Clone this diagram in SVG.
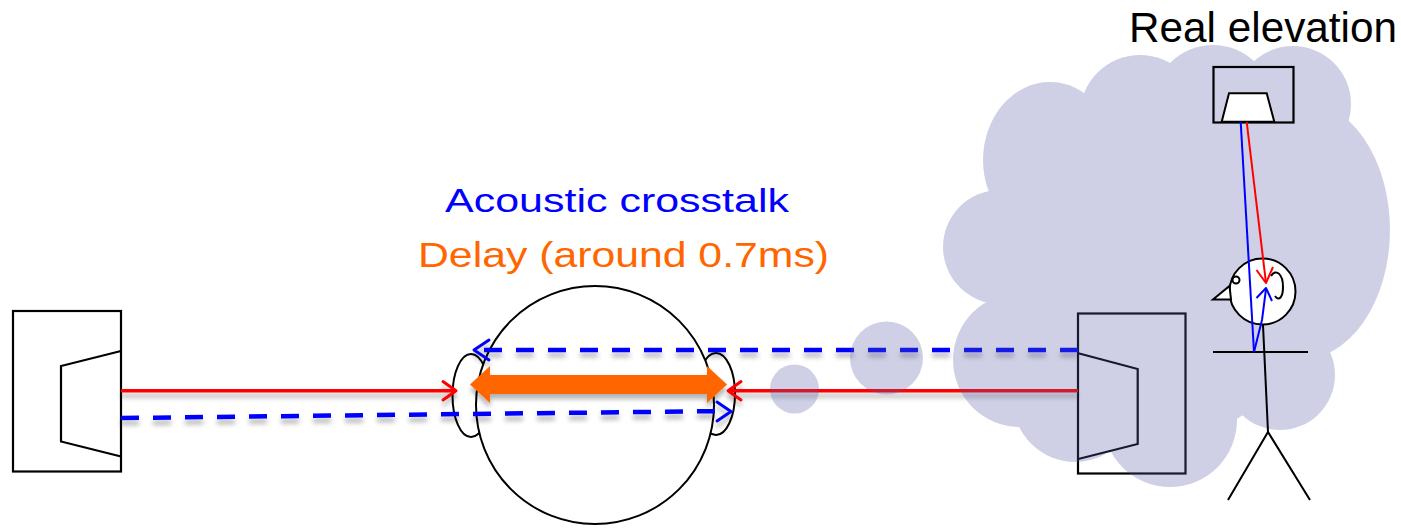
<svg xmlns="http://www.w3.org/2000/svg" width="1401" height="529" viewBox="0 0 1401 529">
  <style>
    .outline { fill: none; stroke: #000; stroke-width: 2.2; stroke-linejoin: miter; }
    .white { fill: #fff; stroke: #000; stroke-width: 2; }
    .thin { fill: none; stroke: #000; stroke-width: 2; }
    .red { fill: none; stroke: #ff0000; stroke-width: 3.5; }
    .blue-dash { fill: none; stroke: #0000ff; stroke-width: 4.5; stroke-dasharray: 18 14; }
    .head-red { fill: none; stroke: #ff0000; stroke-width: 3; stroke-linecap: round; stroke-linejoin: round; }
    .head-blue { fill: none; stroke: #0000ff; stroke-width: 3; stroke-linecap: round; stroke-linejoin: round; }
    .ray-red { fill: none; stroke: #ff0000; stroke-width: 2; stroke-linejoin: round; }
    .ray-blue { fill: none; stroke: #0000ff; stroke-width: 2; stroke-linejoin: round; }
    .cloud { fill: rgb(85,90,165); }
    .label { font-family: "Liberation Sans", Arial, sans-serif; }
  </style>
  <defs>
    <filter id="shadow" x="-5%" y="-50%" width="110%" height="250%">
      <feGaussianBlur in="SourceAlpha" stdDeviation="2.5" result="b"/>
      <feOffset in="b" dy="5" result="o"/>
      <feComponentTransfer in="o" result="s">
        <feFuncA type="linear" slope="0.3"/>
      </feComponentTransfer>
      <feMerge>
        <feMergeNode in="s"/>
        <feMergeNode in="SourceGraphic"/>
      </feMerge>
    </filter>
  </defs>

  <!-- left loudspeaker -->
  <g id="speaker-left">
    <rect class="outline" x="13" y="311" width="108" height="160.5"/>
    <polyline class="outline" points="121,351 61,366 61,441.5 121,456.5"/>
  </g>

  <!-- listener head seen from above -->
  <g id="listener-head">
    <ellipse class="white" cx="471" cy="395.5" rx="18.5" ry="41.5"/>
    <ellipse class="white" cx="716" cy="394" rx="19" ry="41"/>
    <circle class="white" cx="595" cy="405" r="119"/>
  </g>

  <!-- right loudspeaker -->
  <g id="speaker-right">
    <rect class="outline" x="1078" y="313.5" width="107.5" height="160"/>
    <polyline class="outline" points="1078.3,353.3 1137.7,369 1137.7,444 1078.3,459"/>
  </g>

  <!-- sound paths -->
  <g id="connectors" filter="url(#shadow)">
    <path id="delay-arrow" fill="#ff6600" d="M470,384.5 L490,366 L490,375 L707,375 L707,366 L727,384.5 L707,403 L707,394 L490,394 L490,403 Z"/>
    <line class="red" x1="121" y1="390.7" x2="455" y2="390.7"/>
    <polyline class="head-red" points="443,381.5 456,390.7 443,400"/>
    <line class="red" x1="1078" y1="390.7" x2="729" y2="390.7"/>
    <polyline class="head-red" points="741,381.5 728,390.7 741,400"/>
    <line class="blue-dash" x1="121" y1="418" x2="728" y2="411"/>
    <polyline class="head-blue" points="717,402 731,411.5 717,421"/>
    <line class="blue-dash" x1="1078" y1="350" x2="476" y2="350"/>
    <polyline class="head-blue" points="489,340 474,350 489,360"/>
  </g>

  <!-- room thought cloud -->
  <g id="cloud" opacity="0.28">
    <circle class="cloud" cx="794.5" cy="389" r="24.5"/>
    <circle class="cloud" cx="886.5" cy="358" r="36.5"/>
    <circle class="cloud" cx="1000" cy="247" r="57"/>
    <ellipse class="cloud" cx="1050" cy="160" rx="67" ry="78"/>
    <circle class="cloud" cx="1140" cy="115" r="60"/>
    <circle class="cloud" cx="1213" cy="105" r="60"/>
    <circle class="cloud" cx="1293" cy="104" r="58"/>
    <ellipse class="cloud" cx="1300" cy="230" rx="90" ry="130"/>
    <circle class="cloud" cx="1280" cy="375" r="55"/>
    <circle class="cloud" cx="1170" cy="420" r="67"/>
    <circle class="cloud" cx="1075" cy="400" r="62"/>
    <circle class="cloud" cx="1020" cy="360" r="67"/>
    <ellipse class="cloud" cx="1160" cy="270" rx="160" ry="170"/>
  </g>

  <!-- elevated loudspeaker -->
  <g id="speaker-top">
    <rect class="outline" x="1213.5" y="67" width="80" height="55.5"/>
    <polygon class="white" points="1221.7,121.7 1229,93.3 1266.7,93.3 1274.3,121.7"/>
  </g>

  <!-- standing listener, side view -->
  <g id="listener-figure">
    <line class="thin" x1="1263" y1="325" x2="1268" y2="432"/>
    <line class="thin" x1="1213" y1="352" x2="1308" y2="352"/>
    <polyline class="thin" points="1228,500 1268,432 1310,500"/>
    <circle class="white" cx="1262.5" cy="291.5" r="33"/>
    <polygon class="white" points="1213,299.5 1229.5,286 1231,299.5"/>
    <circle class="white" cx="1236" cy="280" r="3.5"/>
    <path class="thin" d="M1271,276 C1276,268 1283,274 1283,287 C1283,297 1279,302 1275,296"/>
  </g>

  <!-- elevated source rays -->
  <g id="elevation-rays">
    <line class="ray-blue" x1="1240.7" y1="122" x2="1254" y2="352"/>
    <polyline class="ray-blue" points="1254,352 1262,320 1266,289"/>
    <polyline class="ray-blue" points="1256.5,298 1266,288 1272,301"/>
    <line class="ray-red" x1="1246.7" y1="122" x2="1266" y2="283"/>
    <polyline class="ray-red" points="1256.5,270 1266,283 1273,267"/>
  </g>

  <!-- labels -->
  <g id="labels" class="label">
    <text x="1129" y="42" font-size="42" fill="#000" textLength="268" lengthAdjust="spacingAndGlyphs">Real elevation</text>
    <text x="445" y="212" font-size="34" fill="#0000ff" textLength="344" lengthAdjust="spacingAndGlyphs">Acoustic crosstalk</text>
    <text x="418" y="267" font-size="35" fill="#ff6600" textLength="411" lengthAdjust="spacingAndGlyphs">Delay (around 0.7ms)</text>
  </g>
</svg>
